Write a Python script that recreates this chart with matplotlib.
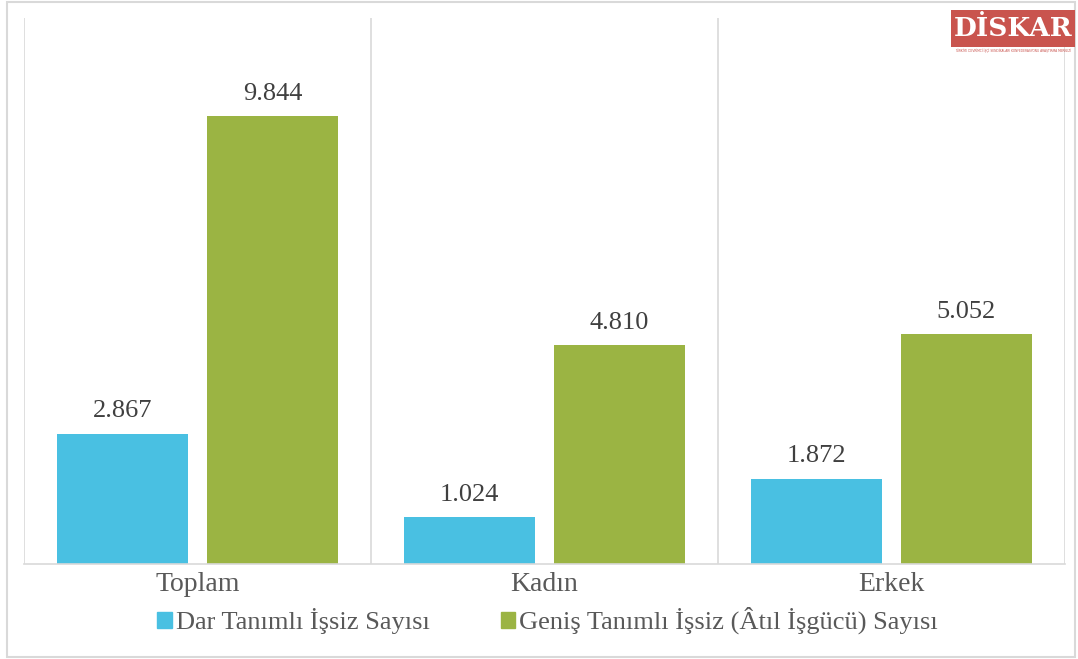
import matplotlib
matplotlib.use("Agg")
import matplotlib.pyplot as plt
from matplotlib.patches import Rectangle, Patch
import numpy as np

categories = ["Toplam", "Kadın", "Erkek"]
dar_values = [2.867, 1.024, 1.872]
genis_values = [9.844, 4.810, 5.052]
dar_labels = ["2.867", "1.024", "1.872"]
genis_labels = ["9.844", "4.810", "5.052"]
series_names = ["Dar Tanımlı İşsiz Sayısı", "Geniş Tanımlı İşsiz (Âtıl İşgücü) Sayısı"]

blue = "#49C0E2"
green = "#9BB443"
text_gray = "#595959"
grid_gray = "#D9D9D9"

plt.rcParams["font.family"] = ["Liberation Serif", "DejaVu Serif"]

fig = plt.figure(figsize=(10.78, 6.59), dpi=100)
ax = fig.add_axes([0.0223, 0.1442, 0.9655, 0.8285])

x = np.arange(len(categories))
w = 0.378
off = 0.216
b1 = ax.bar(x - off, dar_values, w, color=blue, label=series_names[0])
b2 = ax.bar(x + off, genis_values, w, color=green, label=series_names[1])

for rect, lab in zip(b1, dar_labels):
    ax.text(rect.get_x() + rect.get_width() / 2, rect.get_height() + 0.25, lab,
            ha="center", va="bottom", fontsize=19, color="#404040")
for rect, lab in zip(b2, genis_labels):
    ax.text(rect.get_x() + rect.get_width() / 2, rect.get_height() + 0.25, lab,
            ha="center", va="bottom", fontsize=19, color="#404040")

ax.set_xlim(-0.5, 2.5)
ax.set_ylim(0, 12)
ax.set_yticks([])
ax.set_xticks(x)
ax.set_xticklabels(categories, fontsize=20, color=text_gray)
ax.tick_params(axis="x", length=0, pad=6)
for xv in [-0.5, 0.5, 1.5, 2.5]:
    ax.axvline(xv, color=grid_gray, lw=1.2, zorder=0)
for s in ["top", "right", "left"]:
    ax.spines[s].set_visible(False)
ax.spines["bottom"].set_color(grid_gray)
ax.spines["bottom"].set_linewidth(1.2)

handles = [Patch(color=blue), Patch(color=green)]
fig.legend(handles, series_names, loc="center", bbox_to_anchor=(0.508, 0.058),
           ncol=2, frameon=False, fontsize=19, handlelength=0.55, handleheight=0.55,
           handletextpad=0.15, columnspacing=2.7, labelcolor=text_gray)

# figure border
fig.patches.append(Rectangle((0.0065, 0.003), 0.991, 0.994, transform=fig.transFigure,
                             fill=False, edgecolor=grid_gray, lw=1.5))

# logo
fig.patches.append(Rectangle((951 / 1078, 1 - 47 / 659), 124 / 1078, 37 / 659,
                             transform=fig.transFigure, facecolor="#C9544E", edgecolor="none"))
fig.text(1013 / 1078, 1 - 29 / 659, "DİSKAR", ha="center", va="center", color="white",
         fontsize=19, fontweight="bold", family=["DejaVu Serif"])
fig.text(1013 / 1078, 1 - 51 / 659, "TÜRKİYE DEVRİMCİ İŞÇİ SENDİKALARI KONFEDERASYONU ARAŞTIRMA MERKEZİ",
         ha="center", va="center", color="#C9544E", fontsize=2.2, family=["DejaVu Sans"])

fig.savefig("out.png", dpi=100)
